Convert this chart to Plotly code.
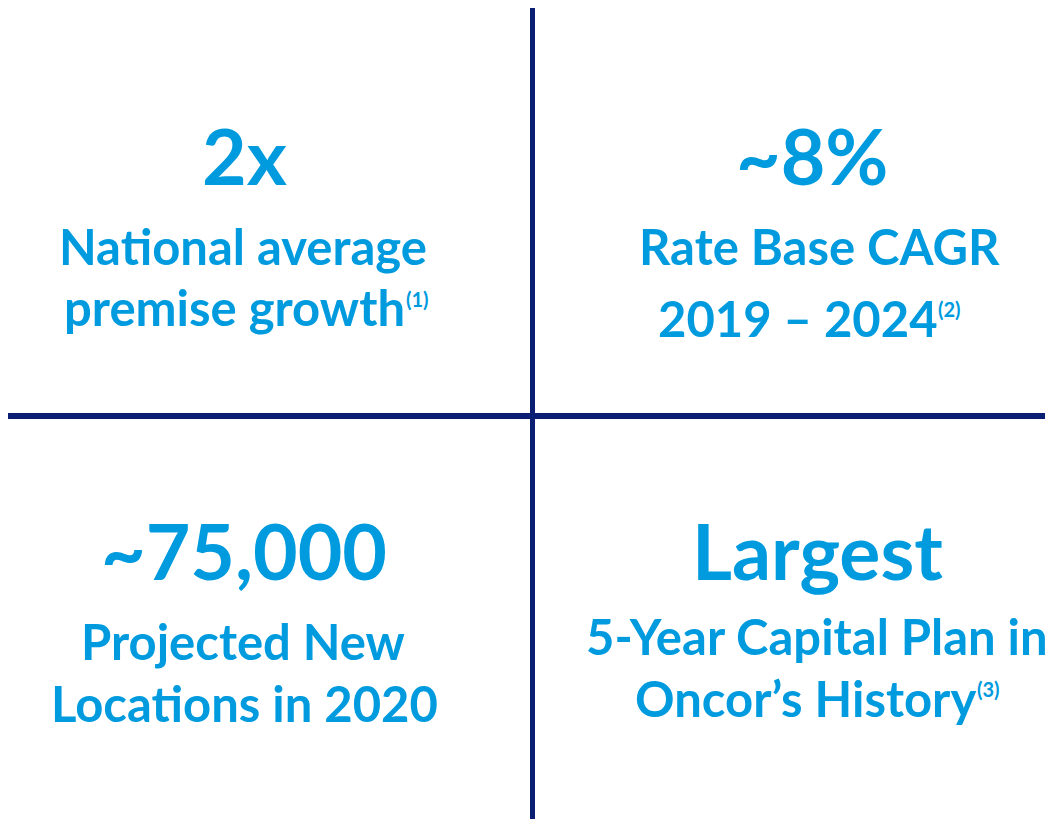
import plotly.graph_objects as go

# Quadrant content
headlines = ["2x", "~8%", "~75,000", "Largest"]
sub_line1 = ["National average", "Rate Base CAGR", "Projected New", "5-Year Capital Plan in"]
sub_line2 = ["premise growth", "2019 – 2024", "Locations in 2020", "Oncor’s History"]
footnotes = ["(1)", "(2)", "", "(3)"]

# layout constants (page pixel coordinates, top-down)
head_x = [244, 812, 243.5, 817.5]
line1_x = [243, 819.5, 243, 817]
line2_x = [234, 798, 244, 805]
head_y = [155, 155, 550, 550]
line1_y = [246, 246, 641, 636]
line2_y = [307, 318, 703, 698]
foot_x = [417.5, 949.5, None, 988.5]
foot_y = [299, 309, None, 689]

W, H = 1053, 819
PAD = 8  # default page body margin
BLUE = "#009BDE"
NAVY = "#0A1F74"
FONT = "Lato"
HEAD_SIZE = 77
SUB_SIZE = 49
FOOT_SIZE = 20

fig = go.Figure()

# divider lines
fig.add_trace(go.Scatter(x=[532.5, 532.5], y=[7, 830], mode="lines",
                         line=dict(color=NAVY, width=5), hoverinfo="skip", showlegend=False))
fig.add_trace(go.Scatter(x=[0, 1060], y=[416, 416], mode="lines",
                         line=dict(color=NAVY, width=6), hoverinfo="skip", showlegend=False))

for i in range(4):
    fig.add_annotation(x=head_x[i], y=head_y[i], text=headlines[i], showarrow=False,
                       font=dict(family=FONT, size=HEAD_SIZE, color=BLUE, weight="bold"),
                       xanchor="center", yanchor="middle")
    fig.add_annotation(x=line1_x[i], y=line1_y[i], text=sub_line1[i], showarrow=False,
                       font=dict(family=FONT, size=SUB_SIZE, color=BLUE, weight="bold"),
                       xanchor="center", yanchor="middle")
    fig.add_annotation(x=line2_x[i], y=line2_y[i], text=sub_line2[i], showarrow=False,
                       font=dict(family=FONT, size=SUB_SIZE, color=BLUE, weight="bold"),
                       xanchor="center", yanchor="middle")
    if footnotes[i]:
        fig.add_annotation(x=foot_x[i], y=foot_y[i], text=footnotes[i], showarrow=False,
                           font=dict(family=FONT, size=FOOT_SIZE, color=BLUE, weight="bold"),
                           xanchor="center", yanchor="middle")

fig.update_layout(
    width=W - PAD, height=H - PAD, margin=dict(l=0, r=0, t=0, b=0),
    paper_bgcolor="white", plot_bgcolor="white",
    xaxis=dict(range=[PAD, W], visible=False, fixedrange=True),
    yaxis=dict(range=[H, PAD], visible=False, fixedrange=True),
    showlegend=False,
)

fig.write_html("out.html")
